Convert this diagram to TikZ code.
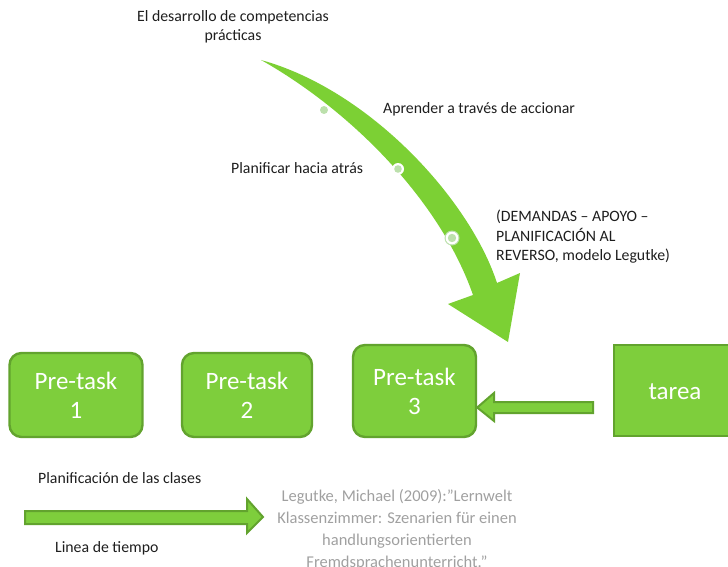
\documentclass[tikz,border=0pt]{standalone}
\usepackage{fontspec}
\setmainfont{Carlito}
\definecolor{gfill}{RGB}{126,206,60}
\definecolor{gline}{RGB}{98,163,46}
\definecolor{garrow}{RGB}{124,208,52}
\definecolor{gpale}{RGB}{188,224,172}
\definecolor{gtxt}{RGB}{30,30,30}
\definecolor{cite}{RGB}{160,160,160}
\tikzset{
  box/.style={draw=gline, line width=2.4pt, fill=gfill, rounded corners=12pt, text=white, align=center,
     font=\fontsize{25}{29}\selectfont, inner sep=0pt},
  lab/.style={text=gtxt, font=\fontsize{15.8}{19.5}\selectfont, inner sep=0pt},
  blockarrow/.style={draw=gline, line width=2pt, fill=gfill, line join=miter},
}
\begin{document}
\begin{tikzpicture}[x=1pt,y=-1pt]
\useasboundingbox (0,0) rectangle (728,567);
\clip (0,0) rectangle (728,567);
% big curved arrow
\fill[garrow] (261,60) .. controls (370,90) and (470,200) .. (497,283)
  -- (520,273) -- (508,342) -- (448,304) -- (473,295)
  .. controls (440,200) and (350,110) .. (261,60) -- cycle;
% dots and rings
\fill[gpale] (324,110) circle (4);
\fill[white] (398,169) circle (6);
\fill[gpale] (398,169) circle (3.8);
\fill[gpale] (452,238) circle (7.5);
\fill[white] (452,238) circle (6.3);
\fill[gpale] (452,238) circle (4.2);
% top texts
\node[lab, align=center] (t1) at (233,27) {El desarrollo de competencias\\prácticas};
\node[lab, anchor=west] (t2) at (383,109) {Aprender a través de accionar};
\node[lab, anchor=west] (t3) at (231,168) {Planificar hacia atrás};
\node[lab, anchor=north west, align=left] (t4) at (496,210) {(DEMANDAS – APOYO –\\PLANIFICACIÓN AL\\REVERSO, modelo Legutke)};
% boxes
\node[box, minimum width=133pt, minimum height=84pt] (p1) at (76,395) {Pre-task\\1};
\node[box, minimum width=130pt, minimum height=84pt] (p2) at (247,395) {Pre-task\\2};
\node[box, minimum width=123pt, minimum height=92pt] (p3) at (414.5,391) {Pre-task\\3};
\node[box, rounded corners=0pt, minimum width=130pt, minimum height=91pt] (ta) at (679,390.5) {};
\node[text=white, font=\fontsize{25}{29}\selectfont, inner sep=0pt] (tat) at (675,392) {tarea};
% arrow tarea -> pre-task 3
\draw[blockarrow] (593,402) -- (494,402) -- (494,393) -- (p3.east |- 0,407.5) -- (494,421) -- (494,413) -- (593,413) -- cycle;
% bottom
\node[lab, anchor=west] (b1) at (38,478) {Planificación de las clases};
\node[lab, anchor=west] (b2) at (55,548) {Linea de tiempo};
\draw[blockarrow] (25,511) -- (247,511) -- (247,499) -- (263,517) -- (247,533) -- (247,524) -- (25,524) -- cycle;
\node[text=cite, font=\fontsize{16.5}{22}\selectfont, align=center, inner sep=0pt, anchor=north] (ct) at (397,489.5)
  {Legutke, Michael (2009):"Lernwelt\\Klassenzimmer: Szenarien für einen\\handlungsorientierten\\Fremdsprachenunterricht."};
\end{tikzpicture}
\end{document}
